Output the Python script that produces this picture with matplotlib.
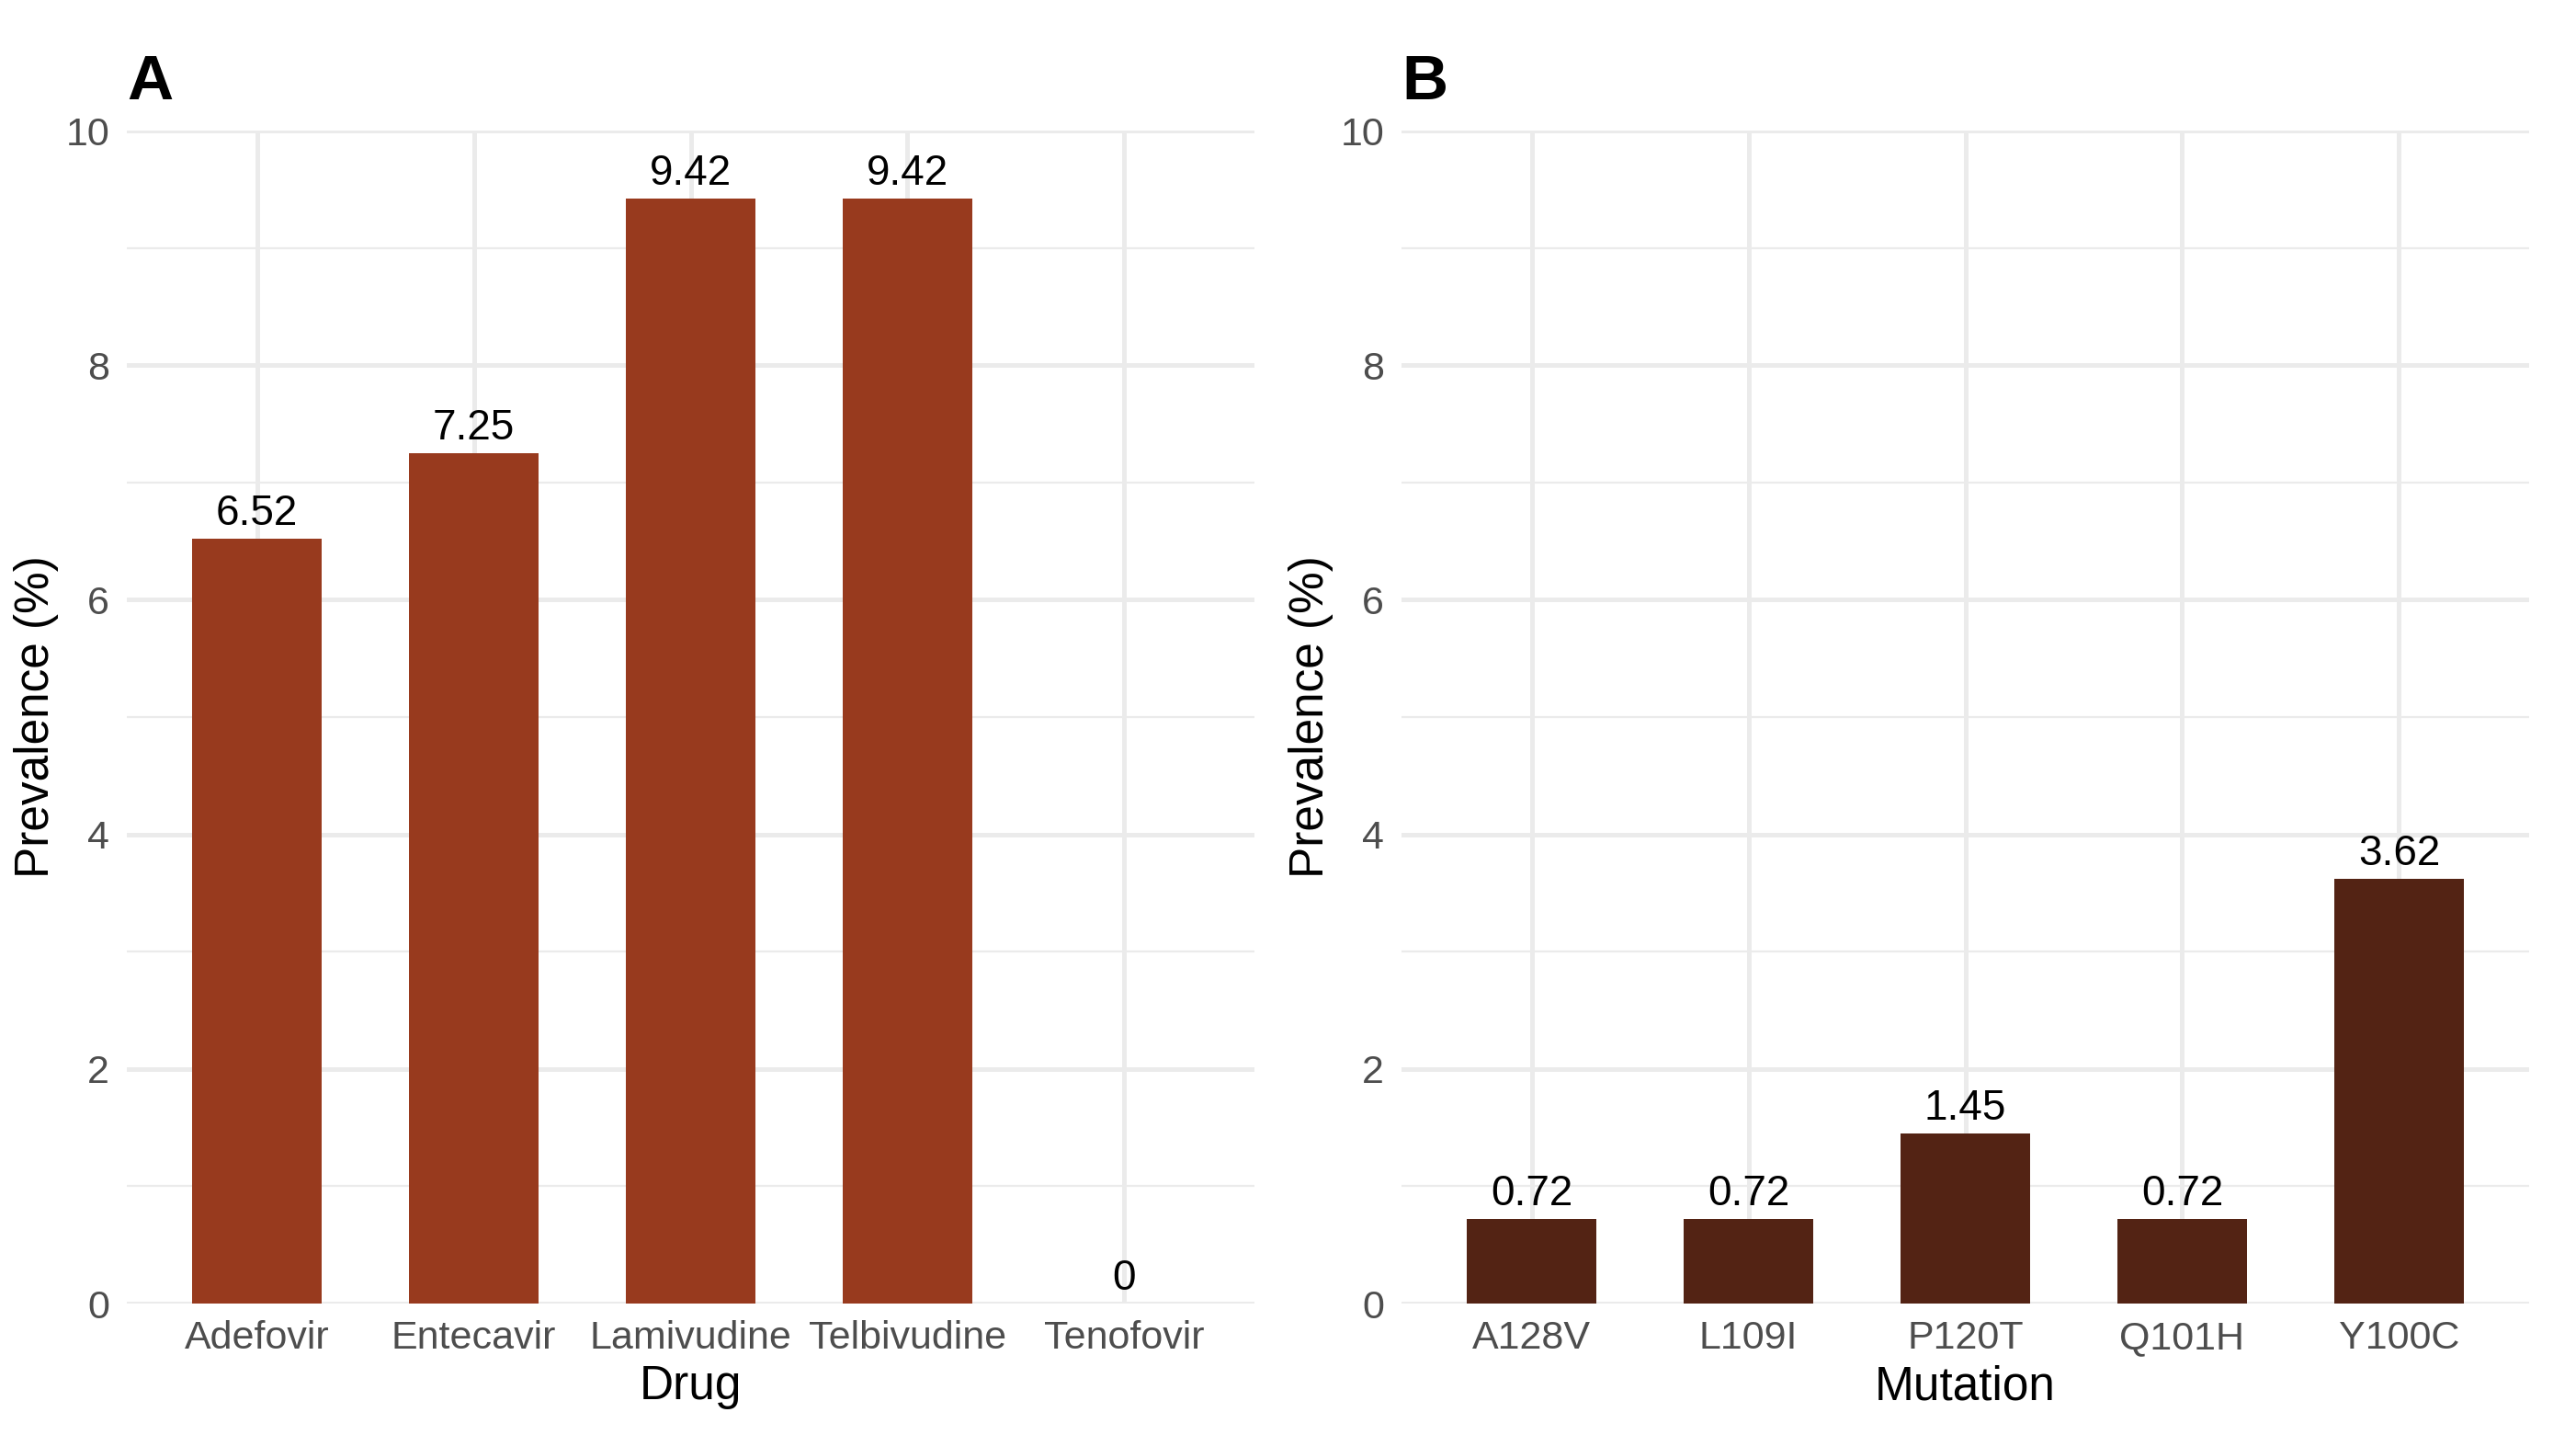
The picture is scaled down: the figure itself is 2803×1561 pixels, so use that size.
import matplotlib
matplotlib.use("Agg")
import matplotlib.pyplot as plt
from matplotlib.ticker import MultipleLocator

plt.rcParams['font.family'] = ['Liberation Sans', 'DejaVu Sans']

# data
drugs = ['Adefovir', 'Entecavir', 'Lamivudine', 'Telbivudine', 'Tenofovir']
drug_prev = [6.52, 7.25, 9.42, 9.42, 0]
mutations = ['A128V', 'L109I', 'P120T', 'Q101H', 'Y100C']
mut_prev = [0.72, 0.72, 1.45, 0.72, 3.62]

W, H = 2803, 1561
fig = plt.figure(figsize=(W / 200, H / 200), dpi=200)

grid_col = '#EBEBEB'


def panel(left, cats, vals, color, xlabel, letter):
    ax = fig.add_axes([left / W, 1 - 1418 / H, 1227 / W, 1276 / H])
    x = list(range(len(cats)))
    ax.bar(x, vals, width=0.6, color=color, zorder=3)
    for xi, v in zip(x, vals):
        lab = f'{v:g}' if v == 0 else f'{v:.2f}'
        ax.annotate(lab, (xi, v), xytext=(0, 5.4), textcoords='offset points',
                    ha='center', va='baseline', fontsize=16.5, color='black', zorder=4)
    ax.set_xlim(-0.6, len(cats) - 0.4)
    ax.set_ylim(0, 10)
    ax.set_xticks(x)
    ax.set_xticklabels(cats)
    ax.yaxis.set_major_locator(MultipleLocator(2))
    ax.yaxis.set_minor_locator(MultipleLocator(1))
    ax.grid(True, which='major', color=grid_col, linewidth=1.8)
    ax.grid(True, which='minor', axis='y', color=grid_col, linewidth=0.8)
    ax.set_axisbelow(True)
    for s in ax.spines.values():
        s.set_visible(False)
    ax.tick_params(axis='both', which='both', length=0, labelsize=15.5, labelcolor='#4D4D4D')
    ax.tick_params(axis='x', pad=6.5)
    ax.tick_params(axis='y', pad=6.8)
    ax.set_xlabel(xlabel, fontsize=18.5, labelpad=3)
    ax.set_ylabel('Prevalence (%)', fontsize=18.5, labelpad=2.5)
    ax.text(0, 1 + (142 - 108) / 1276, letter, transform=ax.transAxes,
            fontsize=25, fontweight='bold', ha='left', va='baseline')
    return ax


panel(138, drugs, drug_prev, '#983A1E', 'Drug', 'A')
panel(1525, mutations, mut_prev, '#532314', 'Mutation', 'B')

fig.savefig('out.png', dpi=200, facecolor='white')
